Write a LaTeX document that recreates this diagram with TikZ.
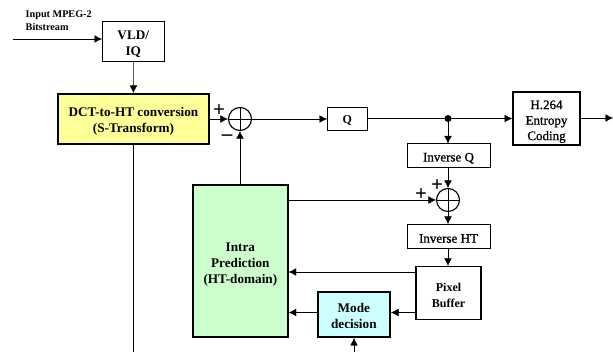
\documentclass[tikz,border=0pt]{standalone}
\usepackage{fontspec}
\setmainfont{Liberation Serif}
\newfontfamily\semibd[FakeBold=1]{Liberation Serif}
\usetikzlibrary{arrows.meta}
\definecolor{yel}{RGB}{255,255,153}
\definecolor{grn}{RGB}{204,255,204}
\definecolor{cyn}{RGB}{204,255,255}
\newcommand{\topsp}[1]{\rule{0pt}{#1}}
\tikzset{
  x=1pt,y=-1pt,
  line width=1pt,
  conn/.style={-{Latex[length=7.5pt,width=7.5pt]}},
  blk/.style={draw,line width=1pt,inner sep=0pt,align=center,font=\fontsize{12}{15.5}\selectfont\bfseries,fill=white},
  reg/.style={font=\fontsize{13}{15.5}\selectfont\semibd},
  big/.style={font=\fontsize{13.2}{16}\selectfont\bfseries},
  thk/.style={blk,big,line width=2pt},
  sumnode/.style={draw,circle,minimum size=23pt,inner sep=0pt,line width=1.1pt,
    path picture={\draw[line width=0.8pt] (path picture bounding box.north)--(path picture bounding box.south) (path picture bounding box.west)--(path picture bounding box.east);}},
  sgn/.style={inner sep=0pt,font=\fontsize{21}{21}\selectfont\bfseries},
  lab/.style={inner sep=0pt,align=left,font=\fontsize{10.2}{13}\selectfont\bfseries}
}
\begin{document}
\begin{tikzpicture}
\useasboundingbox (0,0) rectangle (613,352);
\node[blk,big,minimum width=61.5pt,minimum height=39.5pt] (vld) at (133.25,41.75) {\topsp{14pt}VLD/\\IQ};
\node[thk,fill=yel,minimum width=151pt,minimum height=50pt] (dct) at (133.5,119) {\topsp{14pt}DCT-to-HT conversion\\(S-Transform)};
\node[sumnode] (s1) at (240,119) {};
\node[blk,minimum width=39.5pt,minimum height=23pt] (q) at (347.25,119) {\topsp{11pt}Q};
\node[blk,reg,line width=1.6pt,minimum width=67pt,minimum height=53pt] (ent) at (546.5,118.5) {\topsp{15pt}H.264\\Entropy\\Coding};
\node[blk,reg,minimum width=83pt,minimum height=24pt] (iq) at (448.5,156) {\topsp{13pt}Inverse Q};
\node[sumnode] (s2) at (448,200) {};
\node[blk,reg,minimum width=83pt,minimum height=24.5pt] (iht) at (448.5,236.75) {\topsp{12pt}Inverse HT};
\node[blk,line width=1.6pt,minimum width=65pt,minimum height=53pt] (pix) at (448.5,293.2) {\topsp{12.5pt}Pixel\\Buffer};
\node[thk,fill=grn,minimum width=94.7pt,minimum height=152pt] (intra) at (240.35,261) {\topsp{15pt}Intra\\Prediction\\(HT-domain)};
\node[thk,fill=cyn,minimum width=72.3pt,minimum height=45pt] (mode) at (353.85,314.5) {\topsp{12pt}Mode\\decision};
\node[lab,anchor=north west] (inlab) at (25.5,10.5) {Input MPEG-2\\Bitstream};
\node[sgn] (p1) at (219,111) {+};
\node[sgn] (m1) at (227,138) {--};
\node[sgn] (p2) at (421,195) {+};
\node[sgn] (p3) at (437,186) {+};
\fill (448,118.5) circle (3.5pt) coordinate (dot);
\coordinate (in) at (13,39);
\coordinate (out) at (613,118);
\coordinate (dctend) at (133.5,352);
\coordinate (modein) at (354,352);
\coordinate (y1) at (0,272);
\coordinate (y2) at (0,312.5);
\draw[conn] (in) -- (vld.west |- in);
\draw[conn] (vld) -- (dct);
\draw[conn] (dct.east |- s1) -- (s1);
\draw[conn] (s1) -- (q);
\draw (q.east |- dot) -- (dot);
\draw[conn] (dot) -- (ent.west |- dot);
\draw[conn] (ent.east |- out) -- (out);
\draw[conn] (dot) -- (dot |- iq.north);
\draw[conn] (iq.south -| s2) -- (s2);
\draw[conn] (s2) -- (iht.north -| s2);
\draw[conn] (iht.south -| s2) -- (pix.north -| s2);
\draw[conn] (intra.north -| s1) -- (s1);
\draw[conn] (intra.east |- s2) -- (s2);
\draw[conn] (pix.west |- y1) -- (intra.east |- y1);
\draw[conn] (pix.west |- y2) -- (mode.east |- y2);
\draw[conn] (mode.west |- y2) -- (intra.east |- y2);
\draw[conn] (modein) -- (mode.south -| modein);
\draw (dct.south) -- (dctend);
\end{tikzpicture}
\end{document}
